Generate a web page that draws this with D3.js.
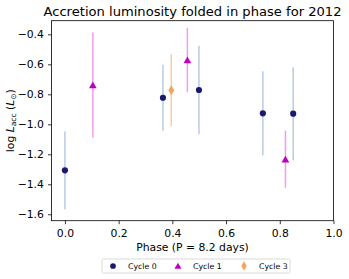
<!DOCTYPE html>
<html>
<head>
<meta charset="utf-8">
<script src="https://cdn.jsdelivr.net/npm/d3@7"></script>
<style>
  body { margin: 0; background: #fff; }
  svg { font-family: "DejaVu Sans", sans-serif; }
</style>
</head>
<body>
<div id="chart"></div>
<script>
// cycle 0: phase, log Lacc, error
const cycle0Phase = [0.0, 0.365, 0.499, 0.737, 0.85];
const cycle0Value = [-1.307, -0.823, -0.771, -0.927, -0.929];
const cycle0Err = [0.26, 0.22, 0.295, 0.28, 0.31];

const cycle1Phase = [0.104, 0.456, 0.821];
const cycle1Value = [-0.738, -0.571, -1.233];
const cycle1Err = [0.35, 0.215, 0.19];

const cycle3Phase = [0.396];
const cycle3Value = [-0.773];
const cycle3Err = [0.24];

const xTicks = [0, 0.2, 0.4, 0.6, 0.8, 1.0];
const yTicks = [-1.6, -1.4, -1.2, -1.0, -0.8, -0.6, -0.4];

const W = 349, H = 279;
const margin = { top: 20.7, right: 15.5, bottom: 58.3, left: 51.5 };
const width = W - margin.left - margin.right;
const height = H - margin.top - margin.bottom;

const svg = d3.select('#chart').append('svg')
  .attr('width', W).attr('height', H);

const g = svg.append('g').attr('transform', `translate(${margin.left},${margin.top})`);

const x = d3.scaleLinear().domain([-0.05, 1.0]).range([0, width]);
const y = d3.scaleLinear().domain([-1.643, -0.309]).range([height, 0]);

const series = [
  { name: 'Cycle 0', phase: cycle0Phase, value: cycle0Value, err: cycle0Err,
    color: '#191970', errColor: '#b8cbe3', symbol: d3.symbolCircle, size: 30 },
  { name: 'Cycle 1', phase: cycle1Phase, value: cycle1Value, err: cycle1Err,
    color: '#bf00bf', errColor: '#f09cf0', symbol: d3.symbolTriangle, size: 26 },
  { name: 'Cycle 3', phase: cycle3Phase, value: cycle3Value, err: cycle3Err,
    color: '#f4a460', errColor: '#f9cca4', symbol: d3.symbolDiamond, size: 30 }
];

// error bars first, then markers
series.forEach(s => {
  const pts = s.phase.map((p, i) => ({ p, v: s.value[i], e: s.err[i] }));
  g.append('g').selectAll('line').data(pts).enter().append('line')
    .attr('x1', d => x(d.p)).attr('x2', d => x(d.p))
    .attr('y1', d => y(d.v + d.e)).attr('y2', d => y(d.v - d.e))
    .attr('stroke', s.errColor).attr('stroke-width', 1.5);
});
series.forEach(s => {
  const pts = s.phase.map((p, i) => ({ p, v: s.value[i] }));
  const offset = s.symbol === d3.symbolTriangle ? 1 : 0;
  g.append('g').selectAll('path').data(pts).enter().append('path')
    .attr('d', d3.symbol().type(s.symbol).size(s.size))
    .attr('transform', d => `translate(${x(d.p)},${y(d.v) + offset})`)
    .attr('fill', s.color);
});

// axes
const xAxis = g.append('g').attr('transform', `translate(0,${height})`)
  .call(d3.axisBottom(x).tickValues(xTicks).tickFormat(d3.format('.1f')).tickSizeOuter(0).tickSize(3.5));
const yAxis = g.append('g')
  .call(d3.axisLeft(y).tickValues(yTicks).tickFormat(d => d3.format('.1f')(d).replace('-', '\u2212')).tickSizeOuter(0).tickSize(3.5));
[xAxis, yAxis].forEach(a => {
  a.select('.domain').remove();
  a.selectAll('line').attr('stroke', '#000').attr('stroke-width', 0.8);
  a.selectAll('text').attr('font-size', 10.8).attr('fill', '#000')
    .attr('font-family', '"DejaVu Sans", sans-serif');
});
xAxis.selectAll('text').attr('dy', '0.9em');
yAxis.selectAll('text').attr('dx', '-0.1em');

g.append('rect').attr('width', width).attr('height', height)
  .attr('fill', 'none').attr('stroke', '#000').attr('stroke-width', 0.8);

// title & labels
svg.append('text').attr('x', margin.left + width / 2).attr('y', 16)
  .attr('text-anchor', 'middle').attr('font-size', 13.1)
  .text('Accretion luminosity folded in phase for 2012');

svg.append('text').attr('x', margin.left + width / 2).attr('y', 250.5)
  .attr('text-anchor', 'middle').attr('font-size', 10.8)
  .text('Phase (P = 8.2 days)');

const yl = svg.append('text')
  .attr('transform', `translate(13.5,${margin.top + height / 2}) rotate(-90)`)
  .attr('text-anchor', 'middle').attr('font-size', 10.8);
yl.append('tspan').text('log ');
yl.append('tspan').attr('font-style', 'italic').text('L');
yl.append('tspan').attr('font-size', 7.5).attr('dy', 2).text('acc');
yl.append('tspan').attr('dy', -2).text(' (');
yl.append('tspan').attr('font-style', 'italic').text('L');
yl.append('tspan').attr('font-size', 7.5).attr('dy', 2).text('\u2299');
yl.append('tspan').attr('dy', -2).text(')');

// legend
const legend = svg.append('g').attr('transform', 'translate(102,259)');
legend.append('rect').attr('width', 188).attr('height', 14).attr('rx', 1.5)
  .attr('fill', '#fff').attr('stroke', '#d0d0d0').attr('stroke-width', 0.8);
const legendX = [11, 76, 142];
series.forEach((s, i) => {
  const offset = s.symbol === d3.symbolTriangle ? 0.8 : 0;
  legend.append('path')
    .attr('d', d3.symbol().type(s.symbol).size(s.size * 0.85))
    .attr('transform', `translate(${legendX[i]},${7 + offset})`)
    .attr('fill', s.color);
  legend.append('text').attr('x', legendX[i] + 15).attr('y', 9.8)
    .attr('font-size', 7.8).text(s.name);
});
</script>
</body>
</html>
